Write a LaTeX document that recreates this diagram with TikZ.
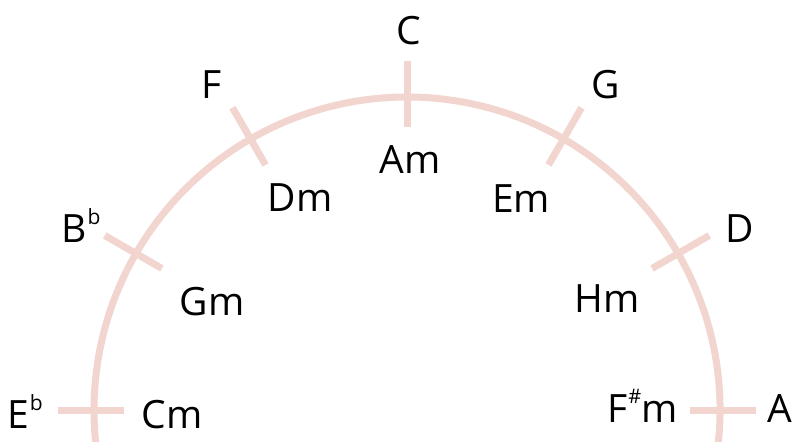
\documentclass[tikz,border=0pt]{standalone}
\usepackage{fontspec}
\setmainfont{Open Sans}
\definecolor{ringpink}{RGB}{242,213,207}
\newcommand{\keyflat}{\kern0.5pt\raisebox{9pt}{\fontsize{10.5}{10.5}\selectfont b}}
\newcommand{\keysharp}{\kern0.3pt\raisebox{9.5pt}{\fontsize{10}{10}\selectfont\#}\kern0.3pt}

\begin{document}
\begin{tikzpicture}[
  x=0.5pt, y=0.5pt,
  ring/.style={draw=ringpink, line width=3.5pt},
  key/.style={font=\fontsize{19.5}{22}\selectfont, anchor=base, inner sep=0pt}
]
\useasboundingbox (0,0) rectangle (793,441);
\clip (0,0) rectangle (793,441);
\begin{scope}[shift={(407,31)}]
  \draw[ring] (-10:313) arc[start angle=-10, end angle=190, radius=313];
  \foreach \a in {0,30,...,180}
    \draw[ring] (\a:283) -- (\a:349);
\end{scope}
\node[key] (c-maj) at (409,397) {C};
\node[key] (a-min) at (410,268) {Am};
\node[key] (g-maj) at (606,343) {G};
\node[key] (e-min) at (521,229) {Em};
\node[key] (d-maj) at (740,199) {D};
\node[key] (h-min) at (607,129) {Hm};
\node[key] (a-maj) at (780,19) {A};
\node[key] (fis-min) at (643,19) {F\keysharp m};
\node[key] (f-maj) at (212,343) {F};
\node[key] (d-min) at (300,230) {Dm};
\node[key] (b-maj) at (81,199) {B\keyflat};
\node[key] (g-min) at (212,126) {Gm};
\node[key] (es-maj) at (25,13) {E\keyflat};
\node[key] (c-min) at (172,13) {Cm};
\end{tikzpicture}
\end{document}
